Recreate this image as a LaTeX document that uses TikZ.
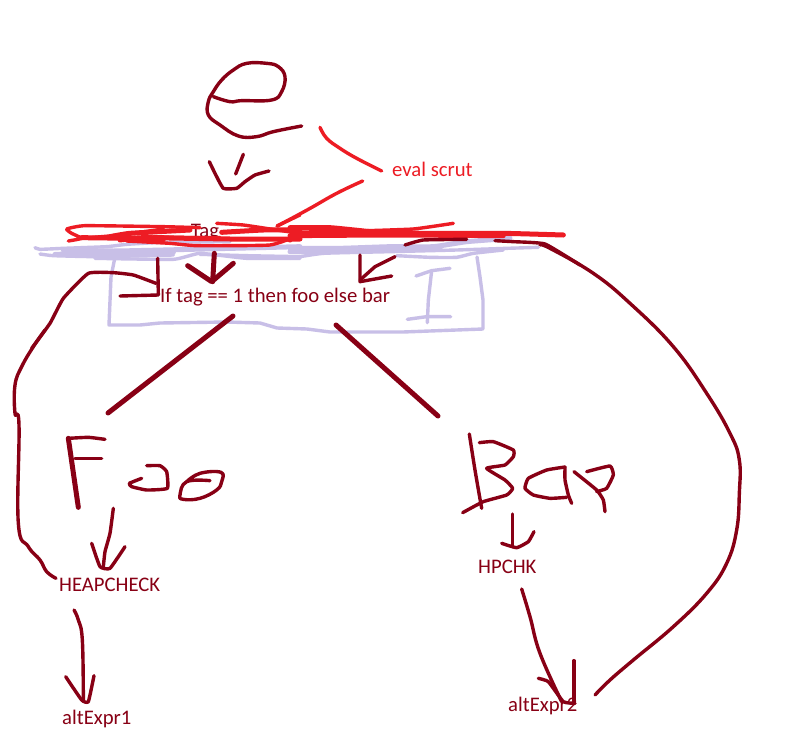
\documentclass[tikz,border=0pt]{standalone}
\usepackage{fontspec}
\setmainfont{Carlito}
\definecolor{dk}{HTML}{880015}
\definecolor{rd}{HTML}{ED1C24}
\definecolor{lav}{HTML}{C8BFE7}
\tikzset{
  z/.style 2 args={shift={(#1,#2)},scale=1/3},
  ink/.style={line cap=round,line join=round,line width=3.4pt,color=dk},
  heavy/.style={ink,line width=5pt},
  redink/.style={ink,color=rd},
  redheavy/.style={redink,line width=5pt},
  lavink/.style={ink,color=lav},
  lavheavy/.style={lavink,line width=5pt},
  lbl/.style={inner sep=0pt,font=\fontsize{20.7}{22}\selectfont,text=dk},
}
\newcommand{\sk}[2]{\draw[#1] plot[smooth,tension=0.7] coordinates {#2};}
\newcommand{\skr}[2]{\draw[#1] plot[smooth,tension=0.25] coordinates {#2};}
\begin{document}
\begin{tikzpicture}[x=1pt,y=-1pt]
\fill[white] (0,0) rectangle (789,752);
\useasboundingbox (0,0) rectangle (789,752);
% e and its arrow
\begin{scope}[z={190}{50}]
\sk{ink}{(70,140)(120,155)(155,152)(245,150)(275,125)(285,80)(265,50)(230,40)(170,40)(130,60)(95,90)(70,125)(55,155)(55,195)(90,225)(145,258)(200,260)(250,245)(335,228)}
\skr{ink}{(58,335)(75,370)(100,415)(140,415)(165,395)(195,375)(237,363)}
\sk{ink}{(160,313)(137,372)}
\sk{redink}{(390,232)(410,265)(450,295)(500,325)(575,363)}
\sk{redink}{(518,393)(440,430)(355,478)(262,528)}
\end{scope}
\node[lbl,text=rd,anchor=west] (evalscrut) at (392,169) {eval scrut};
% hidden text
\node[lbl,anchor=center] (tagword) at (205,233) {Tag};
% lavender band
\begin{scope}[z={30}{215}]
\skr{lavink}{(15,98)(30,103)(100,100)(230,95)(290,88)(400,82)(600,80)}
\skr{lavink}{(30,117)(70,122)(200,125)(430,120)}
\skr{lavheavy}{(100,105)(250,108)(400,105)(810,95)}
\skr{lavheavy}{(75,118)(250,115)(430,112)}
\skr{lavink}{(195,130)(430,133)(510,115)(650,130)(810,130)}
\skr{lavink}{(510,118)(650,122)(810,125)}
\end{scope}
\begin{scope}[z={290}{215}]
\skr{lavheavy}{(0,100)(150,100)(300,95)(430,95)(530,80)(660,70)}
\skr{lavink}{(0,130)(100,115)(300,110)(500,105)(650,100)(745,97)}
\skr{lavheavy}{(0,110)(200,108)(450,100)}
\skr{lavink}{(320,122)(420,127)(500,127)(550,115)(640,105)}
\end{scope}
% lavender box and I-beam
\draw[lavink] (115,257) -- (111,277) -- (109,325) -- (140,325) -- (160,323) -- (227,322) -- (260,323) -- (277,328) -- (307,329) -- (330,332) -- (403,332) -- (483,329) -- (483,300) -- (480,277) -- (477,257);
\begin{scope}[z={280}{200}]
\draw[lavink] (510,205) -- (455,212) -- (408,228);
\draw[lavink] (455,212) -- (445,300) -- (442,368);
\draw[lavink] (382,358) -- (440,350) -- (512,350);
\end{scope}
% red scribble
\begin{scope}[z={30}{215}]
\skr{redink}{(741,33)(810,0)}
\skr{redink}{(560,25)(640,30)(740,45)(810,55)}
\skr{redink}{(115,78)(155,70)(125,55)(110,42)(165,32)(400,35)(510,38)}
\skr{redink}{(155,70)(270,60)(400,42)}
\skr{redheavy}{(240,65)(300,55)(480,45)}
\skr{redheavy}{(155,68)(300,70)(400,74)}
\skr{redheavy}{(270,75)(340,68)(600,72)(810,72)}
\skr{redink}{(370,65)(490,68)(570,68)}
\skr{redink}{(290,78)(420,85)(500,92)(720,90)(810,60)}
\skr{redheavy}{(575,52)(700,45)(810,45)}
\end{scope}
\begin{scope}[z={290}{215}]
\skr{redheavy}{(0,38)(120,38)(240,50)}
\skr{redheavy}{(0,75)(20,55)(200,50)(400,55)(640,55)(820,60)}
\skr{redheavy}{(0,62)(300,60)(640,62)}
\skr{redink}{(200,48)(370,42)(490,25)}
\end{scope}
% arrows into the box
\begin{scope}[z={20}{200}]
\draw[heavy] (583,160) -- (578,245);
\draw[heavy] (503,197) -- (575,245) -- (640,190);
\draw[ink] (413,175) -- (415,285) -- (300,288);
\skr{ink}{(408,250)(340,225)(280,218)(205,220)(130,295)(90,370)(35,445)}
\end{scope}
\begin{scope}[z={0}{330}]
\sk{ink}{(135,0)(100,50)(65,110)(45,165)(45,250)(57,285)(55,580)(85,650)(120,690)(140,725)(168,745)}
\sk{ink}{(222,840)(235,870)(247,930)(250,1110)}
\skr{ink}{(197,1040)(245,1110)(265,1115)(282,1037)}
\end{scope}
\begin{scope}[z={280}{200}]
\draw[ink] (240,165) -- (240,245) -- (335,228);
\draw[ink] (240,240) -- (285,200) -- (345,170);
\skr{ink}{(375,135)(430,120)(560,118)}
\skr{ink}{(645,122)(700,125)(795,132)(900,195)}
\end{scope}
\begin{scope}[z={540}{240}]
\sk{ink}{(0,15)(30,25)(160,100)(270,190)(400,320)(500,460)(570,580)(598,660)(598,760)(590,870)(560,970)(500,1060)(400,1160)(280,1260)(210,1320)(165,1365)}
\end{scope}
% diagonals
\draw[heavy] (233,316) -- (108,413);
\draw[heavy] (336,325) -- (438,416);
% Foo
\begin{scope}[z={40}{420}]
\draw[heavy] (85,55) -- (115,262);
\skr{ink}{(85,55)(145,52)(195,58)}
\skr{ink}{(105,115)(185,115)}
\skr{ink}{(320,137)(360,137)(380,155)(382,205)(320,210)(275,200)(268,190)(305,175)}
\sk{ink}{(510,182)(440,185)(420,225)(430,238)(480,235)(530,210)(545,185)(543,157)(480,160)(440,185)}
\skr{ink}{(220,265)(210,340)(195,395)(190,440)}
\skr{ink}{(155,370)(180,440)(210,445)(255,380)}
\end{scope}
% Bar
\begin{scope}[z={450}{420}]
\sk{ink}{(58,42)(75,150)(95,265)}
\skr{ink}{(88,68)(130,65)(190,90)(190,110)(165,135)(110,145)(165,180)(188,205)(170,225)(100,245)(38,278)}
\skr{ink}{(345,141)(290,150)(235,175)(225,205)(250,225)(300,235)(350,232)}
\skr{ink}{(345,141)(345,180)(355,225)(365,250)}
\skr{ink}{(372,155)(440,210)(460,240)(465,275)}
\skr{ink}{(410,155)(480,138)(490,165)(470,205)(440,215)}
\draw[ink] (187,282) -- (187,380);
\skr{ink}{(155,370)(200,383)(235,365)(252,335)}
\sk{ink}{(215,507)(240,590)(270,700)(335,845)}
\draw[ink] (372,722) -- (372,850);
\skr{ink}{(265,775)(295,785)(340,845)(375,850)}
\end{scope}
% labels
\node[lbl,anchor=west] (cond) at (160,297) {If tag == 1 then foo else bar};
\node[lbl,anchor=west] (heapcheck) at (59,585) {HEAPCHECK};
\node[lbl,anchor=west] (altone) at (62,719) {altExpr1};
\node[lbl,anchor=west] (hpchk) at (478,567) {HPCHK};
\node[lbl,anchor=west] (alttwo) at (508,706) {altExpr2};
\end{tikzpicture}
\end{document}
